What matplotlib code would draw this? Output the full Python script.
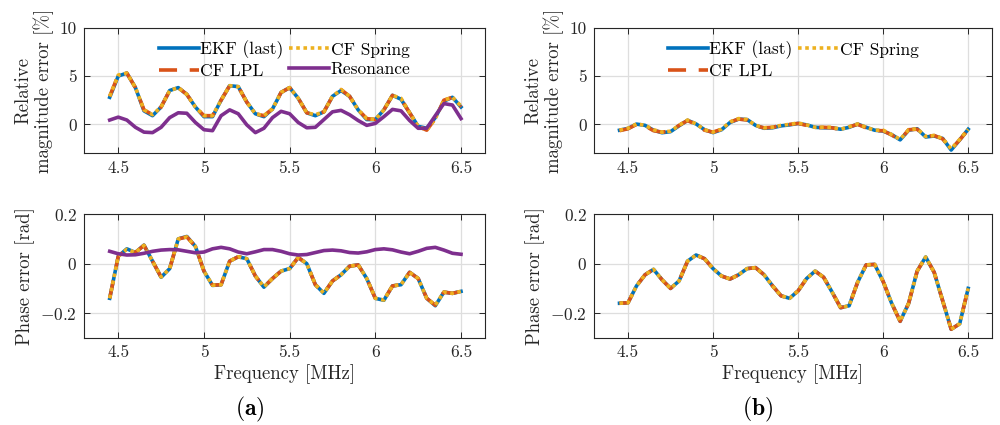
import numpy as np
import matplotlib.pyplot as plt

plt.rcParams['font.family'] = 'serif'
plt.rcParams['font.serif'] = ['cmr10', 'DejaVu Serif']
plt.rcParams['mathtext.fontset'] = 'cm'
plt.rcParams['axes.formatter.use_mathtext'] = True

# frequency grid [MHz]
freq = [4.45, 4.50, 4.55, 4.60, 4.65, 4.70, 4.75, 4.80, 4.85, 4.90, 4.95,
        5.00, 5.05, 5.10, 5.15, 5.20, 5.25, 5.30, 5.35, 5.40, 5.45, 5.50,
        5.55, 5.60, 5.65, 5.70, 5.75, 5.80, 5.85, 5.90, 5.95, 6.00, 6.05,
        6.10, 6.15, 6.20, 6.25, 6.30, 6.35, 6.40, 6.45, 6.50]

# (a) relative magnitude error [%]
mag_a_ekf = [2.8, 5.0, 5.3, 3.8, 1.4, 0.9, 1.8, 3.5, 3.8, 3.1, 1.8,
             0.8, 0.8, 2.5, 4.0, 3.9, 2.3, 1.1, 0.8, 1.6, 3.3, 3.8,
             2.7, 1.2, 0.9, 1.3, 2.9, 3.5, 2.9, 1.5, 0.5, 0.5, 1.5,
             3.0, 2.6, 1.2, -0.2, -0.4, 0.7, 2.4, 2.8, 1.8]
mag_a_lpl = [2.9, 5.1, 5.3, 3.8, 1.5, 1.0, 1.8, 3.5, 3.8, 3.1, 1.8,
             0.9, 0.9, 2.5, 4.0, 3.9, 2.3, 1.1, 0.9, 1.6, 3.3, 3.8,
             2.7, 1.2, 1.0, 1.3, 2.9, 3.6, 2.9, 1.5, 0.6, 0.5, 1.5,
             3.0, 2.6, 1.2, -0.2, -0.6, 0.6, 2.5, 2.8, 1.8]
mag_a_spring = [2.9, 5.1, 5.3, 3.8, 1.5, 1.0, 1.8, 3.5, 3.8, 3.1, 1.8,
                0.9, 0.9, 2.5, 4.0, 3.9, 2.3, 1.1, 0.9, 1.6, 3.3, 3.8,
                2.7, 1.2, 1.0, 1.3, 2.9, 3.6, 2.9, 1.5, 0.6, 0.5, 1.5,
                3.0, 2.7, 1.2, -0.2, -0.6, 0.6, 2.5, 2.8, 1.9]
mag_a_res = [0.45, 0.75, 0.45, -0.3, -0.8, -0.85, -0.3, 0.7, 1.2, 1.15, 0.2,
             -0.55, -0.65, 0.9, 1.5, 1.1, -0.05, -0.85, -0.4, 0.7, 1.35, 1.1,
             0.2, -0.35, -0.3, 0.5, 1.3, 1.45, 1.0, 0.4, -0.1, 0.1, 0.8,
             1.55, 1.4, 0.4, -0.4, -0.4, 0.9, 2.15, 2.0, 0.6]

# (a) phase error [rad]
ph_a_ekf = [-0.14, 0.03, 0.06, 0.045, 0.075, 0.01, -0.055, -0.02, 0.10, 0.11, 0.07,
            -0.03, -0.088, -0.085, 0.01, 0.028, 0.02, -0.05, -0.095, -0.06, -0.03, -0.02,
            0.025, 0.0, -0.085, -0.12, -0.07, -0.045, -0.01, -0.005, -0.06, -0.14, -0.148,
            -0.09, -0.085, -0.035, -0.06, -0.14, -0.17, -0.115, -0.12, -0.112]
ph_a_lpl = [-0.14, 0.03, 0.058, 0.045, 0.074, 0.01, -0.054, -0.02, 0.10, 0.108, 0.07,
            -0.03, -0.087, -0.085, 0.01, 0.028, 0.02, -0.05, -0.094, -0.06, -0.03, -0.02,
            0.025, 0.0, -0.085, -0.119, -0.07, -0.045, -0.01, -0.005, -0.06, -0.14, -0.147,
            -0.09, -0.085, -0.035, -0.06, -0.14, -0.168, -0.115, -0.12, -0.112]
ph_a_spring = ph_a_lpl
ph_a_res = [0.05, 0.04, 0.035, 0.036, 0.042, 0.05, 0.055, 0.057, 0.056, 0.05, 0.044,
            0.047, 0.06, 0.066, 0.06, 0.047, 0.04, 0.048, 0.057, 0.057, 0.05, 0.04,
            0.035, 0.037, 0.045, 0.053, 0.055, 0.052, 0.045, 0.043, 0.048, 0.057, 0.06,
            0.056, 0.047, 0.04, 0.05, 0.062, 0.066, 0.055, 0.042, 0.038]

# (b) relative magnitude error [%]
mag_b_ekf = [-0.6, -0.42, 0.03, -0.1, -0.6, -0.86, -0.75, -0.15, 0.42, 0.05, -0.55,
             -0.85, -0.55, 0.2, 0.55, 0.5, -0.1, -0.4, -0.35, -0.15, -0.05, 0.1,
             -0.05, -0.3, -0.35, -0.35, -0.5, -0.3, 0.03, -0.3, -0.6, -0.69, -1.05,
             -1.6, -0.6, -0.45, -1.3, -1.2, -1.45, -2.65, -1.6, -0.5]
mag_b_lpl = [-0.65, -0.45, 0.0, -0.15, -0.65, -0.8, -0.7, -0.1, 0.4, 0.0, -0.6,
             -0.8, -0.5, 0.25, 0.55, 0.45, -0.15, -0.35, -0.3, -0.1, 0.0, 0.1,
             -0.1, -0.35, -0.3, -0.35, -0.55, -0.25, 0.0, -0.35, -0.65, -0.65, -1.1,
             -1.6, -0.55, -0.5, -1.25, -1.15, -1.5, -2.55, -1.6, -0.55]
mag_b_spring = [-0.6, -0.4, 0.05, -0.1, -0.55, -0.8, -0.7, -0.1, 0.45, 0.05, -0.55,
                -0.8, -0.5, 0.25, 0.6, 0.5, -0.1, -0.35, -0.3, -0.1, 0.0, 0.15,
                -0.05, -0.3, -0.3, -0.3, -0.5, -0.25, 0.05, -0.3, -0.6, -0.6, -1.05,
                -1.55, -0.55, -0.45, -1.25, -1.15, -1.45, -2.55, -1.55, -0.5]

# (b) phase error [rad]
ph_b_ekf = [-0.16, -0.158, -0.09, -0.045, -0.023, -0.065, -0.1, -0.07, 0.01, 0.035, 0.02,
            -0.02, -0.05, -0.062, -0.045, -0.02, -0.016, -0.045, -0.09, -0.13, -0.14, -0.11,
            -0.06, -0.03, -0.055, -0.115, -0.178, -0.17, -0.075, -0.005, -0.003, -0.072, -0.16,
            -0.233, -0.16, -0.03, 0.027, -0.035, -0.15, -0.265, -0.243, -0.1]
ph_b_lpl = ph_b_ekf
ph_b_spring = ph_b_ekf

freq_ticks = [4.5, 5, 5.5, 6, 6.5]
freq_ticklabels = ['4.5', '5', '5.5', '6', '6.5']
mag_ticks = [0, 5, 10]
ph_ticks = [-0.2, 0, 0.2]
ph_ticklabels = ['$-0.2$', '$0$', '$0.2$']

c_ekf = '#0072BD'
c_lpl = '#D95319'
c_spring = '#EDB120'
c_res = '#7E2F8E'
lw = 2.6

fig = plt.figure(figsize=(10, 4.25), dpi=100)
ax_a1 = fig.add_axes([0.084, 0.639, 0.401, 0.296])
ax_a2 = fig.add_axes([0.084, 0.205, 0.401, 0.291])
ax_b1 = fig.add_axes([0.594, 0.639, 0.398, 0.296])
ax_b2 = fig.add_axes([0.594, 0.205, 0.398, 0.291])


def draw(ax, ekf, lpl, spring, res=None):
    ax.plot(freq, ekf, color=c_ekf, lw=lw, label='EKF (last)')
    ax.plot(freq, lpl, color=c_lpl, lw=lw, ls=(0, (5, 3.5)), label='CF LPL')
    ax.plot(freq, spring, color=c_spring, lw=lw, ls=(0, (1, 1)), label='CF Spring')
    if res is not None:
        ax.plot(freq, res, color=c_res, lw=lw, label='Resonance')


def style(ax):
    ax.set_xlim(4.3, 6.64)
    ax.set_xticks(freq_ticks)
    ax.set_xticklabels(freq_ticklabels)
    ax.grid(True, color='#dedede', lw=0.9)
    ax.set_axisbelow(True)
    ax.tick_params(direction='in', top=True, right=True, length=4,
                   labelsize=12.5, colors='#262626', width=0.7, pad=5)
    for s in ax.spines.values():
        s.set_color('#262626')
        s.set_linewidth(0.8)


draw(ax_a1, mag_a_ekf, mag_a_lpl, mag_a_spring, mag_a_res)
draw(ax_a2, ph_a_ekf, ph_a_lpl, ph_a_spring, ph_a_res)
draw(ax_b1, mag_b_ekf, mag_b_lpl, mag_b_spring)
draw(ax_b2, ph_b_ekf, ph_b_lpl, ph_b_spring)

for ax in (ax_a1, ax_b1):
    style(ax)
    ax.set_ylim(-3, 10)
    ax.set_yticks(mag_ticks)
    ax.set_yticklabels([str(v) for v in mag_ticks])
    ax.set_ylabel('Relative\nmagnitude error [%]', fontsize=13.5, color='#262626',
                  linespacing=1.05, labelpad=4)
    ax.legend(loc='upper center', ncol=2, frameon=False, fontsize=12.5,
              handlelength=2.3, handletextpad=0.1, columnspacing=0.3,
              labelspacing=0.25, borderaxespad=0.35)

for ax in (ax_a2, ax_b2):
    style(ax)
    ax.set_ylim(-0.3, 0.2)
    ax.set_yticks(ph_ticks)
    ax.set_yticklabels(ph_ticklabels)
    ax.set_ylabel('Phase error [rad]', fontsize=13.5, color='#262626', labelpad=4)
    ax.set_xlabel('Frequency [MHz]', fontsize=13.5, color='#262626', labelpad=3)

fig.text(0.25, 0.037, r'($\mathbf{a}$)', fontsize=17, ha='center', va='center')
fig.text(0.758, 0.037, r'($\mathbf{b}$)', fontsize=17, ha='center', va='center')

fig.savefig('out.png', dpi=100)
